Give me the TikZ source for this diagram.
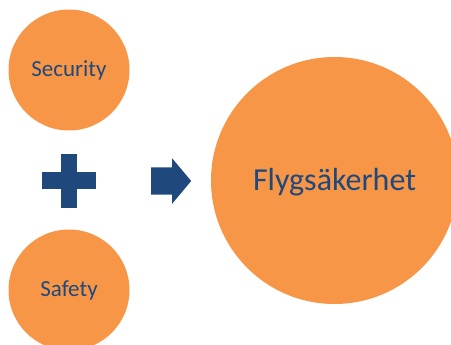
\documentclass[tikz,border=0pt]{standalone}
\usepackage{fontspec}
\setmainfont{Carlito}
\usepackage{xcolor}
\usetikzlibrary{shapes.arrows}
\usetikzlibrary{positioning}
\definecolor{ringorange}{RGB}{247,150,70}
\definecolor{inkblue}{RGB}{31,73,125}

\begin{document}
\begin{tikzpicture}[x=1pt, y=-1pt]
	  \tikzstyle{ball}=[circle, fill=ringorange, inner sep=0pt, text=inkblue]
	  \tikzstyle{small}=[ball, minimum size=121pt, font=\fontsize{23}{27}\selectfont, text height=14pt, text depth=0pt]
\useasboundingbox (0,0) rectangle (451,345);
\clip (0,0) rectangle (451,345);
    \node[small] (security) at (69,70) {Security};
    \node[small] (safety) at (69,290) {Safety};
    \node[ball, minimum size=247pt, font=\fontsize{32}{37}\selectfont, text height=20pt, text depth=0pt] (flyg) at (334.5,180.5) {Flygsäkerhet};
% plus sign
    \fill[inkblue] (42,172) rectangle (96,189);
    \fill[inkblue] (61,154) rectangle (77,208);
    \node[single arrow, fill=inkblue, inner sep=0pt, text height=13.5pt, text depth=13.5pt, minimum height=40pt,
          single arrow head extend=9pt, single arrow tip angle=100, anchor=tail] (arrow) at (151,181) {};
   \end{tikzpicture}
\end{document}
